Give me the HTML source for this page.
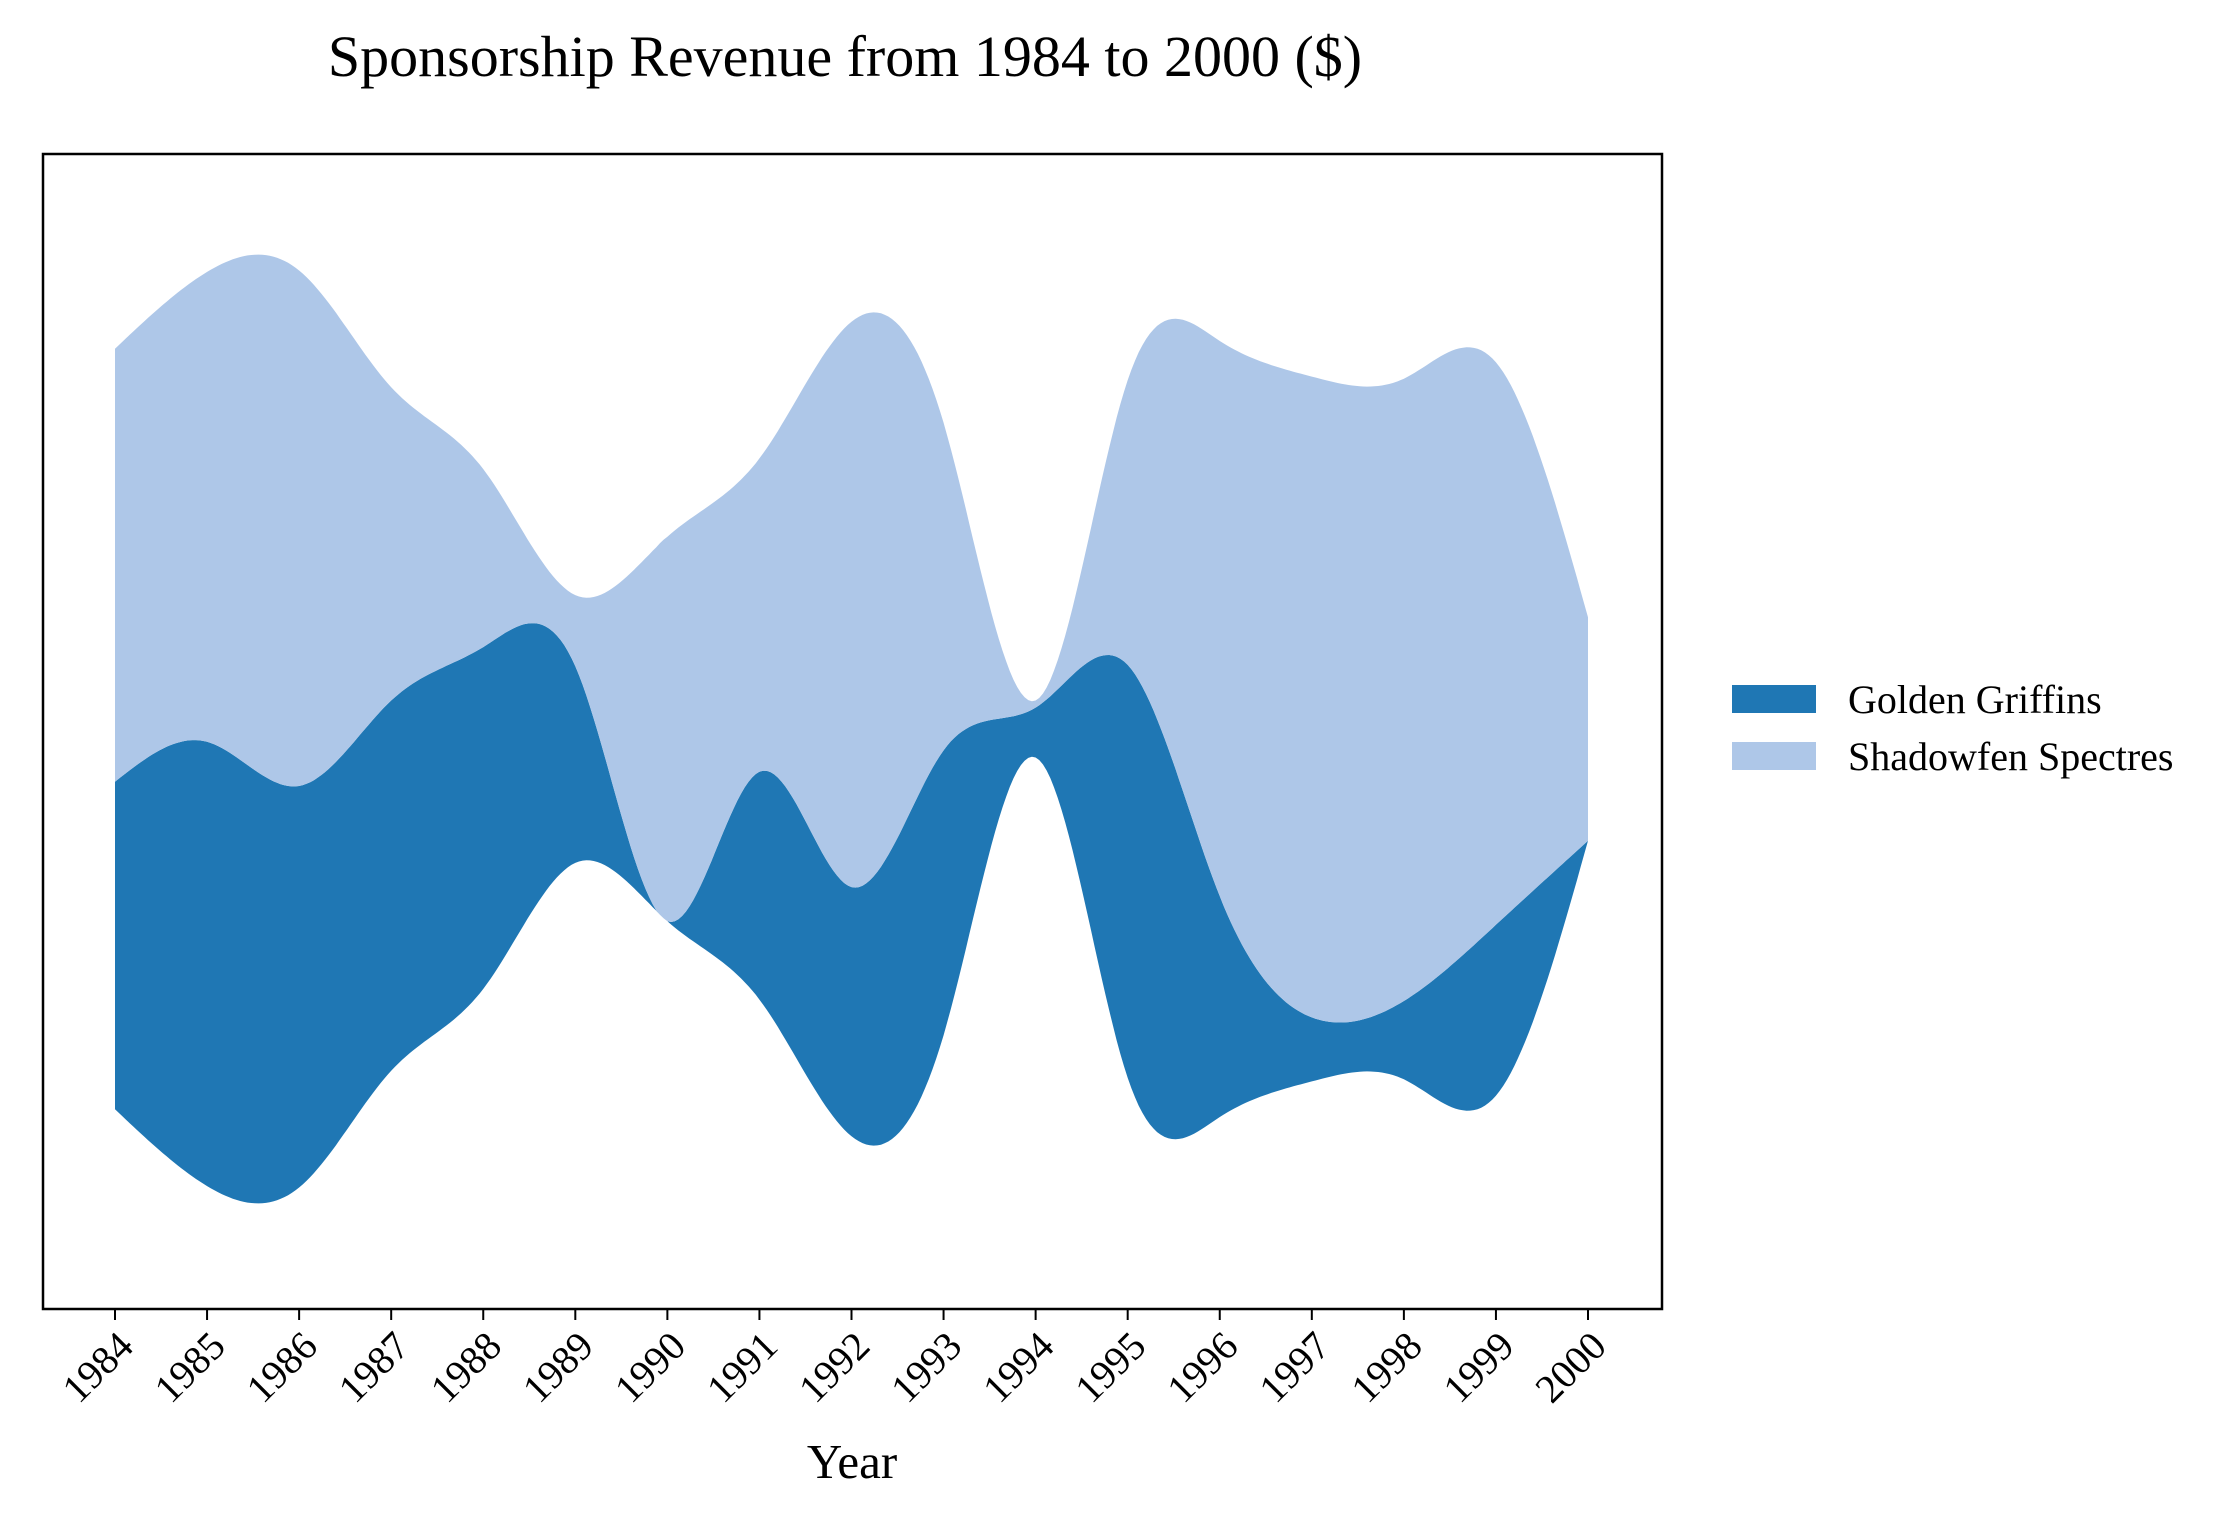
<!DOCTYPE html>
<html><head><meta charset="utf-8">
<style>
html,body{margin:0;padding:0;background:#fff;}
svg{display:block;font-family:"Liberation Serif","DejaVu Serif",serif;}
</style></head>
<body>
<svg id="chart" width="2233" height="1518" viewBox="0 0 2233 1518">
<text x="845" y="76" text-anchor="middle" font-size="58">Sponsorship Revenue from 1984 to 2000 ($)</text>
<g id="layers"></g>
<rect x="43" y="154" width="1619" height="1155" fill="none" stroke="#000" stroke-width="2.5"/>
<g id="xaxis"></g>
<text x="852" y="1478" text-anchor="middle" font-size="49">Year</text>
<g>
<rect x="1732" y="685" width="84" height="28" fill="#1f77b4"/>
<text x="1848" y="713" font-size="40">Golden Griffins</text>
<rect x="1732" y="742" width="84" height="28" fill="#aec7e8"/>
<text x="1848" y="770" font-size="40">Shadowfen Spectres</text>
</g>
</svg>
<script>
const years = [1984,1985,1986,1987,1988,1989,1990,1991,1992,1993,1994,1995,1996,1997,1998,1999,2000];
const goldenGriffins = [230,312,282,260,240,138,0,160,175,200,35,290,155,45,55,120,0];
const shadowfenSpectres = [304,330,362,220,125,50,270,220,397,230,5,200,390,450,437,395,157];

const NS='http://www.w3.org/2000/svg';
const x0=115, x1=1588, yc=729, k=1.424;
function xScale(yr){return x0+(yr-years[0])*(x1-x0)/(years[years.length-1]-years[0]);}
function yScale(v){return yc - v*k;}

function spline(ys){
  const n=ys.length, m=new Array(n).fill(0);
  const a=new Array(n).fill(0),b=new Array(n).fill(0),c=new Array(n).fill(0),d=new Array(n).fill(0);
  b[0]=1;b[n-1]=1;
  for(let i=1;i<n-1;i++){a[i]=1;b[i]=4;c[i]=1;d[i]=6*(ys[i-1]-2*ys[i]+ys[i+1]);}
  for(let i=1;i<n;i++){const w=a[i]/b[i-1];b[i]-=w*c[i-1];d[i]-=w*d[i-1];}
  m[n-1]=d[n-1]/b[n-1];
  for(let i=n-2;i>=0;i--)m[i]=(d[i]-c[i]*m[i+1])/b[i];
  return function(t){
    let i=Math.min(Math.floor(t),n-2);const u=t-i;
    return (1-u)*ys[i]+u*ys[i+1]+((Math.pow(1-u,3)-(1-u))*m[i]+(Math.pow(u,3)-u)*m[i+1])/6;
  };
}
const sg=spline(goldenGriffins), ss=spline(shadowfenSpectres);
const N=400, pts=[];
for(let j=0;j<=N;j++){
  const t=j*(years.length-1)/N;
  const g=Math.max(0,sg(t)), s=Math.max(0,ss(t));
  const base=-(g+s)/2;
  pts.push({x:xScale(years[0]+t), b:base, m:base+g, t:base+g+s});
}
function area(lo,hi){
  let d='M'+pts.map(p=>p.x.toFixed(1)+','+yScale(p[hi]).toFixed(1)).join('L');
  d+='L'+pts.slice().reverse().map(p=>p.x.toFixed(1)+','+yScale(p[lo]).toFixed(1)).join('L')+'Z';
  return d;
}
const layers=document.getElementById('layers');
const p1=document.createElementNS(NS,'path');
p1.setAttribute('d',area('b','m'));p1.setAttribute('fill','#1f77b4');


layers.appendChild(p1);
const p2=document.createElementNS(NS,'path');
p2.setAttribute('d',area('m','t'));p2.setAttribute('fill','#aec7e8');


layers.appendChild(p2);

const xa=document.getElementById('xaxis');
years.forEach(yr=>{
  const x=xScale(yr);
  const tk=document.createElementNS(NS,'line');
  tk.setAttribute('x1',x);tk.setAttribute('x2',x);tk.setAttribute('y1',1309);tk.setAttribute('y2',1320);
  tk.setAttribute('stroke','#000');tk.setAttribute('stroke-width','2');
  
  
  xa.appendChild(tk);
  const tx=document.createElementNS(NS,'text');
  const ax=x, ay=1328;
  tx.setAttribute('x',ax);tx.setAttribute('y',ay);
  tx.setAttribute('text-anchor','end');tx.setAttribute('font-size','40');
  tx.setAttribute('dominant-baseline','hanging');
  tx.setAttribute('transform','rotate(-45 '+ax+' '+ay+')');
  tx.textContent=yr;
  
  
  xa.appendChild(tx);
});
</script>
</body></html>
